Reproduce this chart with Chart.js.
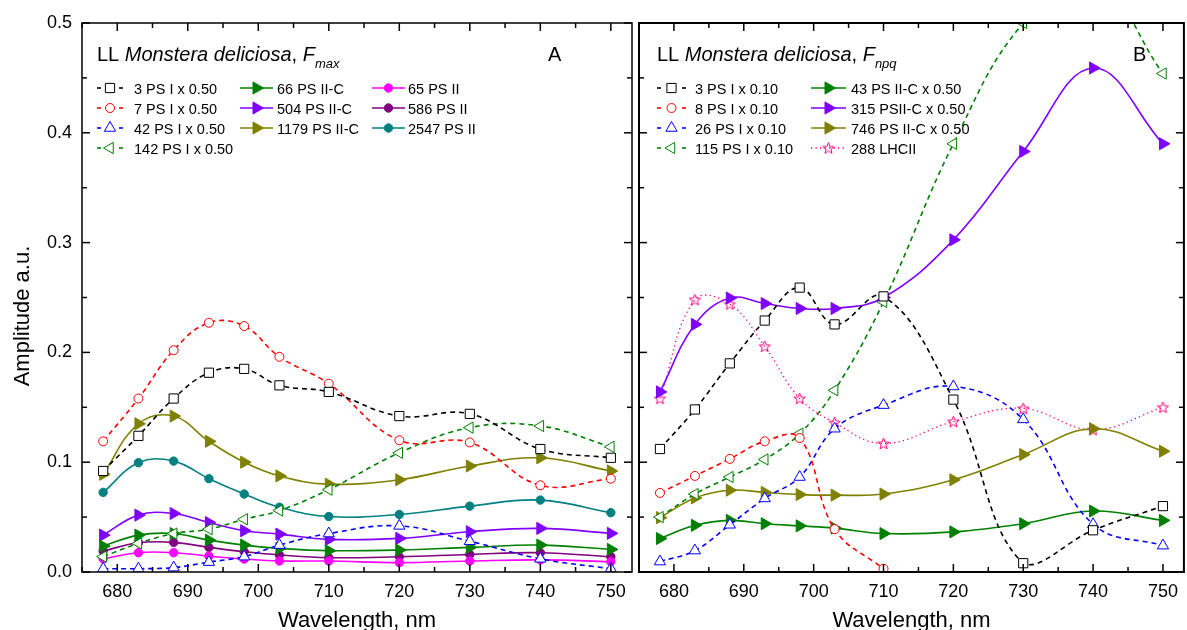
<!DOCTYPE html>
<html>
<head>
<meta charset="utf-8">
<title>Monstera deliciosa spectra</title>
<script src="https://cdn.jsdelivr.net/npm/chart.js@4/dist/chart.umd.min.js"></script>
<style>
  body { margin: 0; background: #fff; }
  #wrap { position: relative; width: 1187px; height: 630px; }
  #chartA { position: absolute; left: 0; top: 0; }
  #chartB { position: absolute; left: 636px; top: 0; }
</style>
</head>
<body>
<div id="wrap">
  <canvas id="chartA" width="636" height="630"></canvas>
  <canvas id="chartB" width="551" height="630"></canvas>
</div>
<script>
const wavelength = [678, 683, 688, 693, 698, 703, 710, 720, 730, 740, 750];
const xTicks = [680, 690, 700, 710, 720, 730, 740, 750];
const yTicks = [0, 0.1, 0.2, 0.3, 0.4, 0.5];

// A: F_max
const fmaxPSI3    = [0.092, 0.124, 0.158, 0.1815, 0.185, 0.170, 0.164, 0.142, 0.144, 0.112, 0.104];
const fmaxPSI7    = [0.119, 0.158, 0.202, 0.227, 0.224, 0.196, 0.1715, 0.120, 0.118, 0.079, 0.085];
const fmaxPSI42   = [0.003, 0.003, 0.004, 0.009, 0.014, 0.0245, 0.035, 0.042, 0.028, 0.012, 0.003];
const fmaxPSI142  = [0.014, 0.026, 0.035, 0.039, 0.048, 0.056, 0.075, 0.1085, 0.1315, 0.133, 0.114];
const fmaxPSIIC66   = [0.0236, 0.0336, 0.035, 0.029, 0.0245, 0.0215, 0.0194, 0.020, 0.0224, 0.0245, 0.0206];
const fmaxPSIIC504  = [0.0336, 0.0518, 0.0533, 0.045, 0.0376, 0.0345, 0.0297, 0.0306, 0.0367, 0.0397, 0.0352];
const fmaxPSIIC1179 = [0.089, 0.135, 0.142, 0.119, 0.100, 0.0875, 0.080, 0.084, 0.0965, 0.104, 0.092];
const fmaxPSII65    = [0.012, 0.0176, 0.0176, 0.0145, 0.0118, 0.010, 0.010, 0.0085, 0.010, 0.011, 0.0094];
const fmaxPSII586   = [0.019, 0.0267, 0.027, 0.0224, 0.0185, 0.0155, 0.013, 0.0139, 0.016, 0.0176, 0.0139];
const fmaxPSII2547  = [0.0725, 0.0995, 0.101, 0.085, 0.071, 0.059, 0.0505, 0.0524, 0.060, 0.0655, 0.054];

// B: F_npq
const fnpqPSI3    = [0.112, 0.148, 0.190, 0.229, 0.259, 0.2255, 0.251, 0.157, 0.008, 0.038, 0.060];
const fnpqPSI8    = [0.072, 0.0875, 0.103, 0.119, 0.122, 0.039, 0.003, null, null, null, null];
const fnpqPSI26   = [0.0095, 0.0195, 0.043, 0.067, 0.0865, 0.1305, 0.152, 0.169, 0.139, 0.0435, 0.024];
const fnpqPSI115  = [0.050, 0.071, 0.0865, 0.1025, 0.126, 0.1655, 0.246, 0.390, 0.500, 0.54, 0.454];
const fnpqPSIIC43   = [0.0305, 0.0425, 0.047, 0.044, 0.042, 0.040, 0.035, 0.0365, 0.044, 0.0555, 0.047];
const fnpqPSIIC315  = [0.164, 0.2255, 0.2495, 0.2445, 0.240, 0.240, 0.250, 0.3025, 0.383, 0.459, 0.390];
const fnpqPSIIC746  = [0.0495, 0.0675, 0.0745, 0.0725, 0.0705, 0.070, 0.071, 0.084, 0.107, 0.1305, 0.110];
const fnpqLHCII288  = [0.158, 0.248, 0.244, 0.2055, 0.158, 0.136, 0.117, 0.137, 0.149, 0.1295, 0.150];

const FONT = '"Liberation Sans", Arial, sans-serif';

// outlined five-point star used as a point image
function starImage(color) {
  const c = document.createElement('canvas');
  c.width = 15; c.height = 15;
  const g = c.getContext('2d');
  g.strokeStyle = color;
  g.lineWidth = 1;
  g.beginPath();
  for (let i = 0; i < 10; i++) {
    const r = i % 2 ? 2.5 : 6;
    const a = -Math.PI / 2 + i * Math.PI / 5;
    const px = 7.5 + r * Math.cos(a), py = 8 + r * Math.sin(a);
    if (i) g.lineTo(px, py); else g.moveTo(px, py);
  }
  g.closePath();
  g.stroke();
  return c;
}

const MARKERS = {
  sq:  { style: 'rect', radius: 6.5, rotation: 0, open: true },
  ci:  { style: 'circle', radius: 4.5, rotation: 0, open: true },
  tu:  { style: 'triangle', radius: 6.5, rotation: 0, open: true },
  tl:  { style: 'triangle', radius: 6.5, rotation: -90, open: true },
  tr:  { style: 'triangle', radius: 7, rotation: 90, open: false },
  dot: { style: 'circle', radius: 4.2, rotation: 0, open: false }
};

function series(label, values, color, mark, line) {
  const m = mark === 'star'
    ? { style: starImage(color), radius: 6, rotation: 0, open: true }
    : MARKERS[mark];
  const data = [];
  wavelength.forEach((w, i) => { if (values[i] != null) data.push({ x: w, y: values[i] }); });
  return {
    label: label,
    data: data,
    borderColor: color,
    backgroundColor: m.open ? '#fff' : color,
    borderWidth: line === 'dot' ? 1.3 : 1.6,
    borderDash: line === 'dash' ? [5, 4] : line === 'dot' ? [1.3, 3.2] : [],
    tension: 0.4,
    pointStyle: m.style,
    pointRadius: m.radius,
    pointHoverRadius: m.radius,
    pointRotation: m.rotation,
    pointBorderWidth: 1,
    pointBorderColor: color,
    pointBackgroundColor: m.open ? '#fff' : color
  };
}

const dsA = [
  series('3 PS I x 0.50', fmaxPSI3, '#000000', 'sq', 'dash'),
  series('7 PS I x 0.50', fmaxPSI7, '#ff0000', 'ci', 'dash'),
  series('42 PS I x 0.50', fmaxPSI42, '#0000ff', 'tu', 'dash'),
  series('142 PS I x 0.50', fmaxPSI142, '#008000', 'tl', 'dash'),
  series('66 PS II-C', fmaxPSIIC66, '#008000', 'tr', 'solid'),
  series('504 PS II-C', fmaxPSIIC504, '#8000ff', 'tr', 'solid'),
  series('1179 PS II-C', fmaxPSIIC1179, '#808000', 'tr', 'solid'),
  series('65 PS II', fmaxPSII65, '#ff00ff', 'dot', 'solid'),
  series('586 PS II', fmaxPSII586, '#800080', 'dot', 'solid'),
  series('2547 PS II', fmaxPSII2547, '#008080', 'dot', 'solid')
];

const dsB = [
  series('3 PS I x 0.10', fnpqPSI3, '#000000', 'sq', 'dash'),
  series('8 PS I x 0.10', fnpqPSI8, '#ff0000', 'ci', 'dash'),
  series('26 PS I x 0.10', fnpqPSI26, '#0000ff', 'tu', 'dash'),
  series('115 PS I x 0.10', fnpqPSI115, '#008000', 'tl', 'dash'),
  series('43 PS II-C x 0.50', fnpqPSIIC43, '#008000', 'tr', 'solid'),
  series('315 PSII-C x 0.50', fnpqPSIIC315, '#8000ff', 'tr', 'solid'),
  series('746 PS II-C x 0.50', fnpqPSIIC746, '#808000', 'tr', 'solid'),
  series('288 LHCII', fnpqLHCII288, '#ff0080', 'star', 'dot')
];

function line(ctx, x1, y1, x2, y2) {
  ctx.beginPath();
  ctx.moveTo(x1, y1);
  ctx.lineTo(x2, y2);
  ctx.stroke();
}

// legend sample: short dashes or a line with the marker in the middle
function legendSample(ctx, ds, x0, x1, y) {
  const cx = (x0 + x1) / 2;
  ctx.save();
  ctx.strokeStyle = ds.borderColor;
  ctx.lineWidth = ds.borderWidth;
  if (ds.borderDash.length && ds.borderDash[0] > 2) {
    line(ctx, x0, y, x0 + 4, y);
    line(ctx, x1 - 4, y, x1, y);
  } else {
    ctx.setLineDash(ds.borderDash);
    line(ctx, x0, y, x1, y);
    ctx.setLineDash([]);
  }
  ctx.fillStyle = ds.pointBackgroundColor;
  ctx.lineWidth = 1;
  Chart.helpers.drawPoint(ctx, {
    pointStyle: ds.pointStyle, radius: ds.pointRadius,
    rotation: ds.pointRotation, borderWidth: 1
  }, cx, y);
  ctx.restore();
}

// frame with inward ticks, panel caption, legend, axis titles
const panelDecor = {
  id: 'panelDecor',
  afterDraw(chart, args, o) {
    const ctx = chart.ctx;
    const a = chart.chartArea;
    const x = chart.scales.x, y = chart.scales.y;
    ctx.save();
    ctx.strokeStyle = '#000';
    ctx.lineWidth = o.frameWidth;
    ctx.strokeRect(a.left, a.top, a.right - a.left, a.bottom - a.top);

    ctx.lineWidth = 1.5;
    const xs = [];
    xTicks.forEach((v, i) => { xs.push([v, 8]); if (i < xTicks.length - 1) xs.push([v + 5, 5]); });
    xs.push([xTicks[0] - 5, 5]);
    xs.forEach(([v, len]) => {
      const px = x.getPixelForValue(v);
      line(ctx, px, a.bottom, px, a.bottom - len);
      line(ctx, px, a.top, px, a.top + len);
    });
    yTicks.forEach((v, i) => {
      const py = y.getPixelForValue(v);
      line(ctx, a.left, py, a.left + 8, py);
      line(ctx, a.right, py, a.right - 8, py);
      if (i < yTicks.length - 1) {
        const pm = y.getPixelForValue(v + 0.05);
        line(ctx, a.left, pm, a.left + 5, pm);
        line(ctx, a.right, pm, a.right - 5, pm);
      }
    });

    // caption
    ctx.fillStyle = '#000';
    ctx.textBaseline = 'alphabetic';
    ctx.textAlign = 'left';
    let tx = o.titleX;
    const parts = [['LL ', ''], ['Monstera deliciosa', 'italic '], [', ', ''], ['F', 'italic ']];
    parts.forEach(([t, st]) => {
      ctx.font = st + '20px ' + FONT;
      ctx.fillText(t, tx, 61);
      tx += ctx.measureText(t).width;
    });
    ctx.font = 'italic 13px ' + FONT;
    ctx.fillText(o.sub, tx, 68);
    ctx.font = '20px ' + FONT;
    ctx.fillText(o.letter, o.letterX, 61);

    // legend
    ctx.font = '14.5px ' + FONT;
    o.legend.forEach(([ds, x0, x1, textX, row]) => {
      const cy = 88 + row * 20;
      legendSample(ctx, ds, x0, x1, cy);
      ctx.fillStyle = '#000';
      ctx.fillText(ds.label, textX, cy + 5.5);
    });

    // axis titles
    ctx.font = '22px ' + FONT;
    ctx.textAlign = 'center';
    ctx.fillText('Wavelength, nm', (a.left + a.right) / 2, 627);
    if (o.yTitle) {
      ctx.translate(29, 316);
      ctx.rotate(-Math.PI / 2);
      ctx.fillText('Amplitude a.u.', 0, 0);
    }
    ctx.restore();
  }
};

function makeScales(showY) {
  return {
    x: {
      type: 'linear', min: 675, max: 753,
      afterBuildTicks: s => { s.ticks = xTicks.map(v => ({ value: v })); },
      afterFit: s => { s.height = 58; },
      grid: { display: false, drawTicks: false },
      border: { display: false },
      ticks: { padding: 9, color: '#000', maxRotation: 0, autoSkip: false,
               font: { family: FONT, size: 18 }, callback: v => v }
    },
    y: {
      type: 'linear', min: 0, max: 0.5, display: showY,
      afterBuildTicks: s => { s.ticks = yTicks.map(v => ({ value: v })); },
      afterFit: s => { s.width = showY ? 82 : 0; },
      grid: { display: false, drawTicks: false },
      border: { display: false },
      ticks: { padding: 10, color: '#000', font: { family: FONT, size: 18 },
               callback: v => Number(v).toFixed(1) }
    }
  };
}

function makeChart(id, datasets, padding, decor) {
  return new Chart(document.getElementById(id), {
    type: 'line',
    data: { datasets: datasets },
    options: {
      responsive: false,
      animation: false,
      layout: { padding: padding, autoPadding: false },
      scales: makeScales(decor.yTitle),
      plugins: { legend: { display: false }, tooltip: { enabled: false }, panelDecor: decor }
    },
    plugins: [panelDecor]
  });
}

makeChart('chartA', dsA, { top: 23, right: 4, left: 0, bottom: 0 }, {
  frameWidth: 1.5, titleX: 97, sub: 'max', letter: 'A', letterX: 548, yTitle: true,
  legend: [
    [dsA[0], 97, 123, 134, 0], [dsA[1], 97, 123, 134, 1], [dsA[2], 97, 123, 134, 2], [dsA[3], 97, 123, 134, 3],
    [dsA[4], 240, 273, 277, 0], [dsA[5], 240, 273, 277, 1], [dsA[6], 240, 273, 277, 2],
    [dsA[7], 372, 405, 408, 0], [dsA[8], 372, 405, 408, 1], [dsA[9], 372, 405, 408, 2]
  ]
});

makeChart('chartB', dsB, { top: 23, right: 1, left: 3, bottom: 0 }, {
  frameWidth: 2, titleX: 21, sub: 'npq', letter: 'B', letterX: 497, yTitle: false,
  legend: [
    [dsB[0], 21, 50, 59, 0], [dsB[1], 21, 50, 59, 1], [dsB[2], 21, 50, 59, 2], [dsB[3], 21, 50, 59, 3],
    [dsB[4], 175, 210, 215, 0], [dsB[5], 175, 210, 215, 1], [dsB[6], 175, 210, 215, 2], [dsB[7], 175, 210, 215, 3]
  ]
});
</script>
</body>
</html>
